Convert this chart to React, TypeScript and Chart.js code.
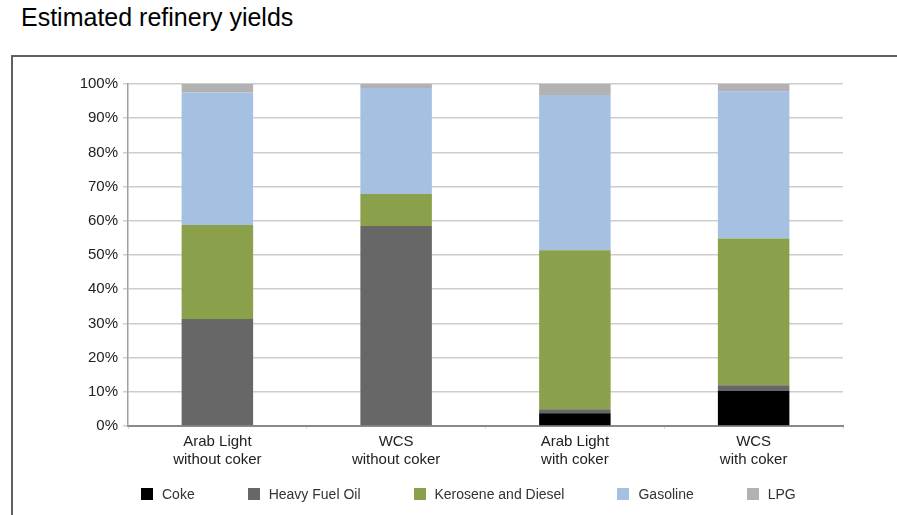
import React, { useEffect, useRef } from "react";
import { Chart, registerables } from "chart.js";

Chart.register(...registerables);

const categories: string[][] = [
  ["Arab Light", "without coker"],
  ["WCS", "without coker"],
  ["Arab Light", "with coker"],
  ["WCS", "with coker"],
];
const coke = [0, 0, 3.7, 10.2];
const heavyFuelOil = [31.3, 58.5, 1.2, 1.7];
const keroseneDiesel = [27.5, 9.3, 46.5, 42.9];
const gasoline = [38.7, 31.0, 45.4, 43.1];
const lpg = [2.5, 1.2, 3.2, 2.1];

const seriesNames = ["Coke", "Heavy Fuel Oil", "Kerosene and Diesel", "Gasoline", "LPG"];
const seriesColors = ["#000000", "#676767", "#8ba04a", "#a5c0e0", "#b2b2b2"];
const seriesValues = [coke, heavyFuelOil, keroseneDiesel, gasoline, lpg];

const FONT = '"Liberation Sans", Arial, sans-serif';

export default function App() {
  const ref = useRef<HTMLCanvasElement | null>(null);

  useEffect(() => {
    if (!ref.current) return;
    const chart = new Chart(ref.current, {
      type: "bar",
      data: {
        labels: categories,
        datasets: seriesValues.map((vals, i) => ({
          label: seriesNames[i],
          data: vals,
          backgroundColor: seriesColors[i],
          borderWidth: 0,
          barPercentage: 0.4,
          categoryPercentage: 1,
        })),
      },
      options: {
        responsive: false,
        animation: false,
        devicePixelRatio: 1,
        layout: { padding: { left: 20, right: 54, top: 84, bottom: 39 } },
        plugins: {
          tooltip: { enabled: false },
          legend: { display: false },
        },
        scales: {
          x: {
            stacked: true,
            offset: true,
            afterFit: (s: any) => {
              s.height = 50;
            },
            grid: {
              display: true,
              drawOnChartArea: false,
              drawTicks: true,
              tickLength: 3,
              color: "#d8d8d8",
              offset: true,
            },
            border: { display: true, color: "#8a8a8a", width: 2 },
            ticks: {
              color: "#222",
              padding: 4,
              maxRotation: 0,
              autoSkip: false,
              font: { family: FONT, size: 15, lineHeight: 1.2 },
            },
          },
          y: {
            stacked: true,
            min: 0,
            max: 100,
            afterFit: (s: any) => {
              s.width = 108;
            },
            grid: {
              color: "#cdcdcd",
              lineWidth: 1.5,
              drawTicks: true,
              tickLength: 5,
            },
            border: { display: true, color: "#a0a0a0", width: 1.5 },
            ticks: {
              stepSize: 10,
              padding: 5,
              color: "#222",
              font: { family: FONT, size: 15 },
              callback: (v: any) => v + "%",
            },
          },
        },
      },
    });
    return () => chart.destroy();
  }, []);

  return (
    <div
      style={{
        position: "fixed",
        left: 0,
        top: 0,
        width: 897,
        height: 515,
        background: "#fff",
        overflow: "hidden",
      }}
    >
      <div
        style={{
          position: "absolute",
          left: 21,
          top: 5,
          fontFamily: FONT,
          fontSize: 25,
          lineHeight: "25px",
          color: "#000",
          whiteSpace: "nowrap",
        }}
      >
        Estimated refinery yields
      </div>
      <div
        style={{
          position: "absolute",
          left: 11,
          top: 55,
          width: 960,
          height: 520,
          border: "2px solid #606060",
          boxSizing: "border-box",
        }}
      />
      <canvas
        ref={ref}
        width={897}
        height={515}
        style={{ position: "absolute", left: 0, top: 0, width: 897, height: 515 }}
      />
      <div
        style={{
          position: "absolute",
          left: 141,
          top: 486,
          height: 16,
          display: "flex",
          alignItems: "center",
          gap: 53,
          fontFamily: FONT,
          fontSize: 14,
          color: "#333",
          whiteSpace: "nowrap",
        }}
      >
        {seriesNames.map((name, i) => (
          <div key={name} style={{ display: "flex", alignItems: "center" }}>
            <span
              style={{
                display: "inline-block",
                width: 12,
                height: 12,
                background: seriesColors[i],
                marginRight: 9,
              }}
            />
            <span>{name}</span>
          </div>
        ))}
      </div>
    </div>
  );
}
